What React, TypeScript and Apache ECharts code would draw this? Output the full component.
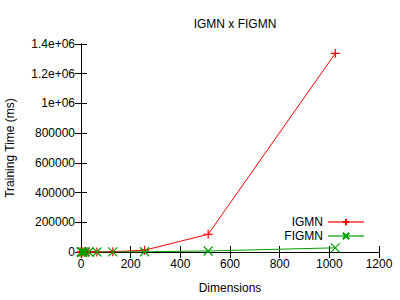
import React, { useEffect, useRef } from "react";
import * as echarts from "echarts";

const dimensions = [1, 2, 4, 8, 16, 32, 64, 128, 256, 512, 1024];
const igmnTime = [5, 10, 20, 40, 80, 200, 500, 2000, 12000, 119000, 1337000];
const figmnTime = [5, 8, 15, 30, 60, 120, 250, 600, 1500, 7000, 28000];
const xTicks = [0, 1200, 200];
const yTicks = [0, 1400000, 200000];

const PLUS = "path://M0,5L10,5M5,0L5,10";
const CROSS = "path://M0,0L10,10M10,0L0,10";
const FONT = "Liberation Sans, Arial, sans-serif";

function fmtY(v: number) {
  if (v >= 1000000) return String(v / 1000000) + "e+06";
  return String(v);
}

export default function App() {
  const ref = useRef<HTMLDivElement>(null);
  useEffect(() => {
    const chart = echarts.init(ref.current!, null, { renderer: "svg" });
    const axisCommon = {
      axisLine: { show: true, lineStyle: { color: "#000", width: 1 } },
      axisTick: { show: true, inside: true, length: 6, lineStyle: { color: "#000" } },
      splitLine: { show: false },
    };
    chart.setOption({
      animation: false,
      backgroundColor: "#fff",
      textStyle: { fontFamily: FONT },
      title: {
        text: "IGMN x FIGMN",
        left: 230,
        textAlign: "center",
        top: 13,
        textStyle: { fontSize: 12, fontWeight: "normal", color: "#000", fontFamily: FONT },
      },
      grid: { left: 81, right: 21, top: 44, bottom: 48, outerBoundsMode: "none", containLabel: false },
      legend: {
        orient: "vertical",
        right: 35,
        top: 216,
        padding: 0,
        align: "right",
        itemWidth: 36,
        itemHeight: 8,
        itemGap: 2,
        textStyle: { fontSize: 12, color: "#000", fontFamily: FONT },
        lineStyle: { opacity: 0.6, width: 2 },
        data: ["IGMN", "FIGMN"],
      },
      xAxis: [
        {
          type: "value",
          min: xTicks[0],
          max: xTicks[1],
          interval: xTicks[2],
          name: "Dimensions",
          nameLocation: "middle",
          nameGap: 30,
          nameTextStyle: { fontSize: 12, color: "#000", fontFamily: FONT },
          axisLabel: { fontSize: 12, color: "#000", fontFamily: FONT, margin: 6, formatter: (v: number) => String(v) },
          ...axisCommon,
        },
        {
          type: "value",
          position: "top",
          min: xTicks[0],
          max: xTicks[1],
          interval: xTicks[2],
          axisLabel: { show: false },
          ...axisCommon,
        },
      ],
      yAxis: [
        {
          type: "value",
          min: yTicks[0],
          max: yTicks[1],
          interval: yTicks[2],
          name: "Training Time (ms)",
          nameLocation: "middle",
          nameGap: 65,
          nameTextStyle: { fontSize: 12, color: "#000", fontFamily: FONT },
          axisLabel: { fontSize: 12, color: "#000", fontFamily: FONT, margin: 6, formatter: fmtY },
          ...axisCommon,
        },
        {
          type: "value",
          position: "right",
          min: yTicks[0],
          max: yTicks[1],
          interval: yTicks[2],
          axisLabel: { show: false },
          ...axisCommon,
        },
      ],
      series: [
        {
          name: "IGMN",
          type: "line",
          data: dimensions.map((d, i) => [d, igmnTime[i]]),
          symbol: PLUS,
          symbolSize: 9,
          showAllSymbol: true,
          lineStyle: { color: "#ff0000", width: 1 },
          itemStyle: { color: "#ff0000", borderColor: "#ff0000", borderWidth: 1.2 },
          emphasis: { disabled: true },
        },
        {
          name: "FIGMN",
          type: "line",
          data: dimensions.map((d, i) => [d, figmnTime[i]]),
          symbol: CROSS,
          symbolSize: 9,
          showAllSymbol: true,
          lineStyle: { color: "#00a000", width: 1 },
          itemStyle: { color: "#00a000", borderColor: "#00a000", borderWidth: 1.2 },
          emphasis: { disabled: true },
        },
      ],
    });
    return () => chart.dispose();
  }, []);
  return <div ref={ref} style={{ position: "fixed", left: 0, top: 0, width: 400, height: 300 }} />;
}
